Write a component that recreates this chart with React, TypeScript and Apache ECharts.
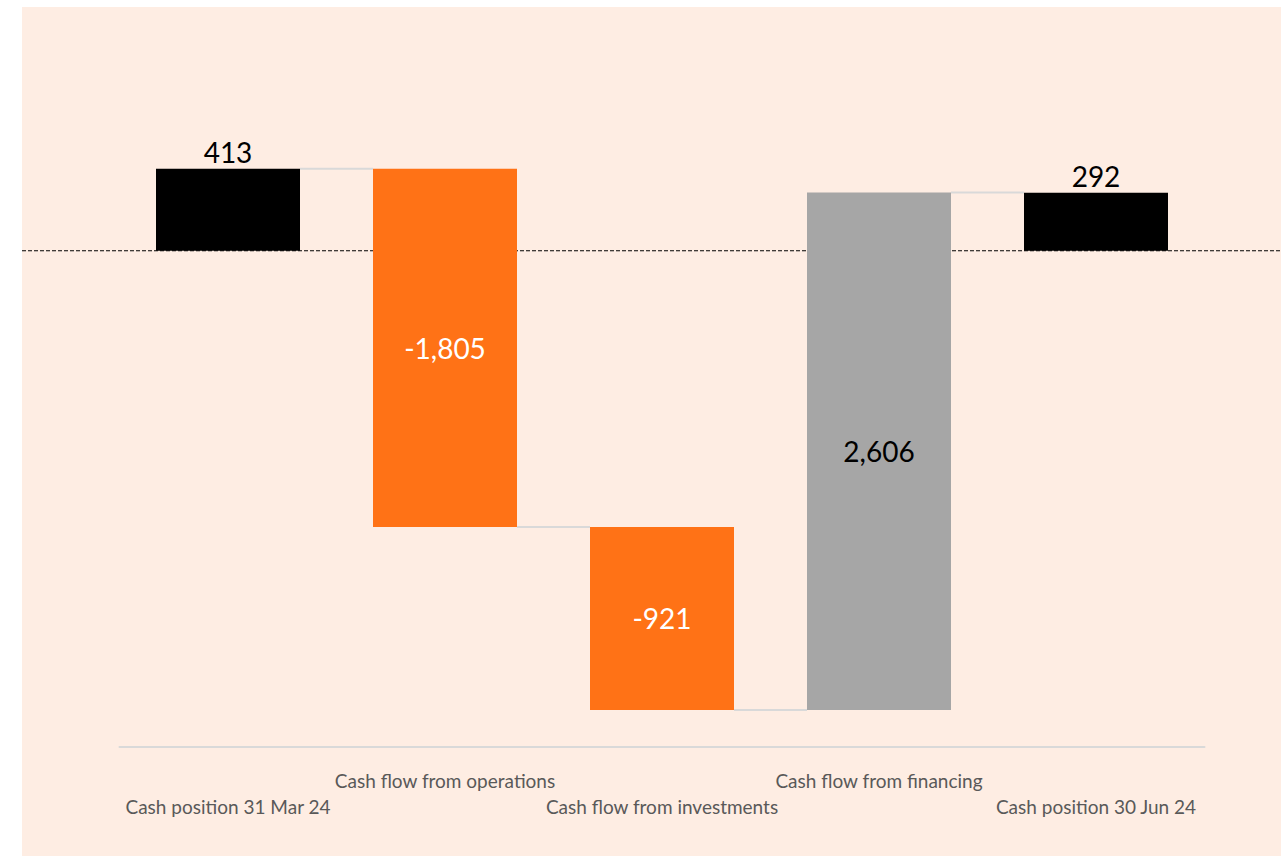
import React, { useEffect, useRef } from "react";
import * as echarts from "echarts";

const categories = [
  "Cash position 31 Mar 24",
  "Cash flow from operations",
  "Cash flow from investments",
  "Cash flow from financing",
  "Cash position 30 Jun 24",
];
const values = [413, -1805, -921, 2606, 292];
const kinds = ["total", "delta", "delta", "delta", "total"];
const labels = ["413", "-1,805", "-921", "2,606", "292"];

const barColors = ["#000000", "#FF7216", "#FF7216", "#A6A6A6", "#000000"];
const labelColors = ["#000000", "#FFFFFF", "#FFFFFF", "#000000", "#000000"];
const labelPlace = ["top", "inside", "inside", "inside", "top"];

const FONT = "Lato, 'Open Sans', sans-serif";

function buildSteps() {
  let running = 0;
  return values.map((v, i) => {
    let start: number, end: number;
    if (kinds[i] === "total") {
      start = 0;
      end = v;
    } else {
      start = running;
      end = running + v;
    }
    running = end;
    return [i, start, end];
  });
}

export default function App() {
  const ref = useRef<HTMLDivElement>(null);
  useEffect(() => {
    document.body.style.margin = "0";
    const chart = echarts.init(ref.current!, null, { renderer: "svg" });
    const steps = buildSteps();
    const connectors = steps.slice(0, -1).map((s) => [s[0], s[2]]);
    const ratio = 144 / 217;

    chart.setOption({
      animation: false,
      grid: { left: 119.5, right: 76.5, top: 151.5, bottom: 109 },
      xAxis: {
        type: "category",
        data: categories,
        axisLine: { onZero: false, lineStyle: { color: "#D9D9D9", width: 2 } },
        axisTick: { show: false },
        axisLabel: {
          interval: 0,
          margin: 20,
          color: "#595959",
          fontFamily: FONT,
          fontSize: 19,
          lineHeight: 26,
          formatter: (v: string, i: number) => (i % 2 === 0 ? "\n" + v : v),
        },
      },
      yAxis: {
        type: "value",
        min: -2500,
        max: 500,
        show: false,
        splitLine: { show: false },
      },
      series: [
        {
          type: "custom",
          data: [[0, 0]],
          z: 1,
          renderItem: (params: any, api: any) => {
            const y = api.coord([0, 0])[1];
            return {
              type: "line",
              shape: { x1: 22, y1: y, x2: api.getWidth(), y2: y },
              style: { stroke: "#000000", lineWidth: 1, lineDash: [4, 2] },
            };
          },
        },
        {
          type: "custom",
          data: connectors,
          z: 2,
          renderItem: (params: any, api: any) => {
            const i = api.value(0);
            const lvl = api.value(1);
            const w = api.size([1, 0])[0] * ratio;
            const a = api.coord([i, lvl]);
            const b = api.coord([i + 1, lvl]);
            return {
              type: "line",
              shape: { x1: a[0] + w / 2, y1: a[1], x2: b[0] - w / 2, y2: b[1] },
              style: { stroke: "#D9D9D9", lineWidth: 2 },
            };
          },
        },
        {
          type: "custom",
          data: steps,
          z: 3,
          renderItem: (params: any, api: any) => {
            const i = api.value(0);
            const s = api.value(1);
            const e = api.value(2);
            const p1 = api.coord([i, s]);
            const p2 = api.coord([i, e]);
            const w = api.size([1, 0])[0] * ratio;
            const top = Math.min(p1[1], p2[1]);
            const h = Math.abs(p1[1] - p2[1]);
            const isTop = labelPlace[i] === "top";
            return {
              type: "group",
              children: [
                {
                  type: "rect",
                  shape: { x: p1[0] - w / 2, y: top, width: w, height: h },
                  style: { fill: barColors[i] },
                },
                {
                  type: "text",
                  x: p1[0],
                  y: isTop ? top - 3 : top + h / 2,
                  style: {
                    text: labels[i],
                    fill: labelColors[i],
                    font: `28px ${FONT}`,
                    align: "center",
                    verticalAlign: isTop ? "bottom" : "middle",
                  },
                },
              ],
            };
          },
        },
      ],
    });
    return () => chart.dispose();
  }, []);

  return (
    <div style={{ position: "relative", width: 1281, height: 856, background: "#FFFFFF", overflow: "hidden" }}>
      <div style={{ position: "absolute", left: 22, top: 7, right: 0, bottom: 0, background: "#FEEDE3" }} />
      <div ref={ref} style={{ position: "absolute", left: 0, top: 0, width: 1281, height: 856 }} />
    </div>
  );
}
